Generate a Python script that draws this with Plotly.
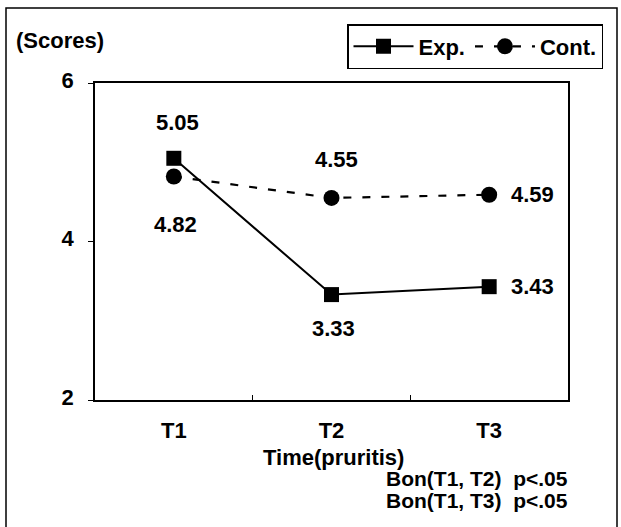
import plotly.graph_objects as go

categories = ["T1", "T2", "T3"]
exp_values = [5.05, 3.33, 3.43]
cont_values = [4.82, 4.55, 4.59]
series_names = ["Exp.", "Cont."]
y_ticks = [2, 4, 6]
y_label = "(Scores)"
x_label = "Time(pruritis)"
notes = ["Bon(T1, T2)  p<.05", "Bon(T1, T3)  p<.05"]

W, H = 621, 527
L, R, T, B = 95, 568, 83, 400
FONT = dict(family="Liberation Sans, Arial, sans-serif", size=22, color="black", weight="bold")
NOTE_FONT = dict(FONT, size=21)

def px(x):
    return (x - L) / (R - L)

def py(y):
    return (B - y) / (B - T)

fig = go.Figure()
fig.add_trace(go.Scatter(
    x=categories, y=exp_values, name=series_names[0], mode="lines+markers",
    line=dict(color="black", width=2),
    marker=dict(symbol="square", size=15, color="black"),
))
fig.add_trace(go.Scatter(
    x=categories, y=cont_values, name=series_names[1], mode="lines+markers",
    line=dict(color="black", width=2.2, dash="8px,11px"),
    marker=dict(symbol="circle", size=16, color="black"),
))

# value labels (offsets in pixels from each marker)
exp_offsets = [(4, 36), (2, -34), (43, 0)]
cont_offsets = [(2, -48), (5, 38), (43, 0)]
for cat, v, (dx, dy) in zip(categories, exp_values, exp_offsets):
    fig.add_annotation(x=cat, y=v, text=f"{v:.2f}", showarrow=False, xshift=dx, yshift=dy,
                       font=FONT)
for cat, v, (dx, dy) in zip(categories, cont_values, cont_offsets):
    fig.add_annotation(x=cat, y=v, text=f"{v:.2f}", showarrow=False, xshift=dx, yshift=dy,
                       font=FONT)

fig.add_annotation(xref="paper", yref="paper", x=px(14), y=py(41), xanchor="left", yanchor="middle",
                   text=y_label, showarrow=False, font=FONT)
fig.add_annotation(xref="paper", yref="paper", x=px(333), y=py(457), xanchor="center", yanchor="middle",
                   text=x_label, showarrow=False, font=FONT)
for i, n in enumerate(notes):
    fig.add_annotation(xref="paper", yref="paper", x=px(570), y=py(478 + 22 * i), xanchor="right",
                       yanchor="middle", text=n, showarrow=False, font=NOTE_FONT)

# outer frame
fig.add_shape(type="rect", xref="paper", yref="paper", x0=px(6), x1=px(617), y0=py(540), y1=py(8),
              line=dict(color="black", width=1.5), layer="below")

fig.update_layout(
    width=W, height=H,
    margin=dict(l=L, r=W - R, t=T, b=H - B, pad=0, autoexpand=False),
    plot_bgcolor="white", paper_bgcolor="white",
    font=FONT,
    showlegend=True,
    legend=dict(orientation="h", x=px(603), y=py(24), xanchor="right", yanchor="top",
                bordercolor="black", borderwidth=1.5, bgcolor="white",
                font=FONT, itemwidth=60, tracegroupgap=0),
    xaxis=dict(range=[-0.5, 2.5], type="category", showline=True, linecolor="black", linewidth=1.5,
               mirror=True, ticks="inside", ticklen=5, tickcolor="black", tickson="boundaries",
               showgrid=False, zeroline=False, tickfont=FONT, ticklabelstandoff=10),
    yaxis=dict(range=[2, 6], tickvals=y_ticks, showline=True, linecolor="black", linewidth=1.5,
               mirror=True, ticks="outside", ticklen=5, tickcolor="black",
               showgrid=False, zeroline=False, tickfont=FONT, ticklabelstandoff=10,
               ticklabelshift=-3),
)

fig.write_html("out.html", config={"displayModeBar": False},
               post_script="document.body.style.margin='0';")
